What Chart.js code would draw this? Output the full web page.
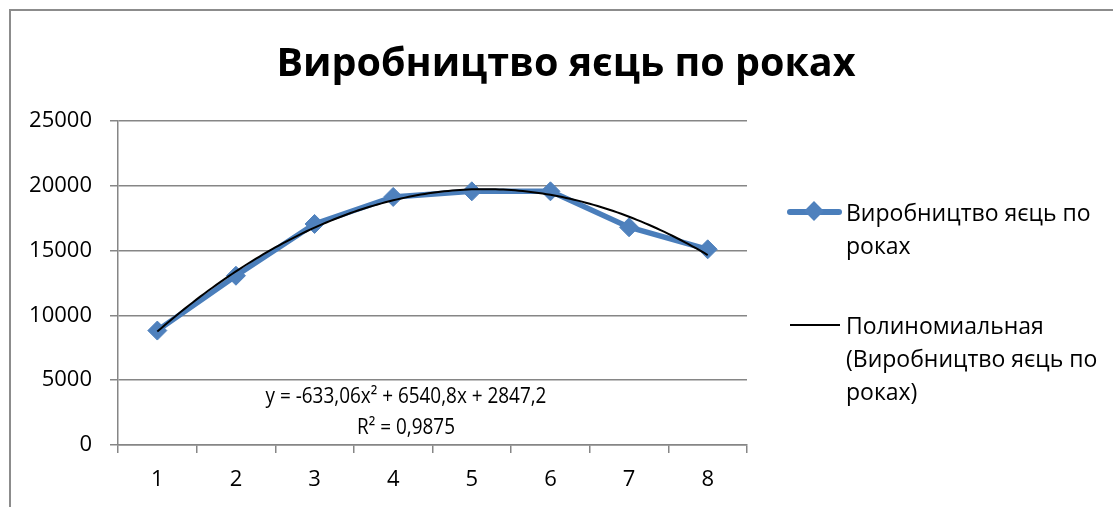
<!DOCTYPE html>
<html>
<head>
<meta charset="utf-8">
<script src="https://cdn.jsdelivr.net/npm/chart.js@4.4.0/dist/chart.umd.min.js"></script>
<style>
    body { margin: 0; background: #fff; overflow: hidden; font-family: "Open Sans", sans-serif; }
    #wrap { position: relative; width: 1113px; height: 507px; }
    #frame { position: absolute; left: 9px; top: 9px; width: 1130px; height: 530px; border: 2px solid #8c8c8c; box-sizing: border-box; }
    #title { position: absolute; left: 0; width: 1132px; top: 35px; text-align: center; font-size: 39.5px; font-weight: bold; line-height: 52px; color: #000; }
    .leg { position: absolute; font-size: 23px; line-height: 33px; color: #000; white-space: nowrap; }
    .mk { position: absolute; }
</style>
</head>
<body>
<div id="wrap">
    <div id="frame"></div>
    <canvas id="eggChart"></canvas>
    <div id="title">Виробництво яєць по роках</div>
    <div class="mk" style="left:787px; top:209px; width:55px; height:6px; background:#4a7ebb; border-radius:3px;"></div>
    <div class="mk" style="left:807px; top:204px; width:14px; height:14px; background:#4f81bd; transform:rotate(45deg);"></div>
    <div class="leg" style="left:846px; top:196px;">Виробництво яєць по<br>роках</div>
    <div class="mk" style="left:790px; top:324px; width:50px; height:2px; background:#000;"></div>
    <div class="leg" style="left:846px; top:309px;">Полиномиальная<br>(Виробництво яєць по<br>роках)</div>
</div>
<script>
// chart values
const years = [1, 2, 3, 4, 5, 6, 7, 8];
const eggOutput = [8830, 13060, 17055, 19140, 19575, 19575, 16800, 15100];
const yTicks = [0, 5000, 10000, 15000, 20000, 25000];
// polynomial trendline coefficients (a2, a1, a0) as shown on the chart
const trendCoef = [-633.06, 6540.8, 2847.2];
const equationLines = ['y = -633,06x² + 6540,8x + 2847,2', 'R² = 0,9875'];

const gridGray = '#868686';
const fontFamily = '"Open Sans", sans-serif';

const seriesPoints = years.map((x, i) => ({ x: x, y: eggOutput[i] }));

const trendPoints = [];
for (let x = years[0]; x <= years[years.length - 1] + 1e-9; x += 0.05) {
    trendPoints.push({ x: x, y: trendCoef[0] * x * x + trendCoef[1] * x + trendCoef[2] });
}

// draws the trendline equation inside the plot area (narrowed like the original font)
const equationLabel = {
    id: 'equationLabel',
    afterDatasetsDraw(chart) {
        const ctx = chart.ctx;
        const sx = 0.86;
        ctx.save();
        ctx.scale(sx, 1);
        ctx.font = '22px ' + fontFamily;
        ctx.fillStyle = '#000';
        ctx.textAlign = 'center';
        ctx.textBaseline = 'middle';
        ctx.fillText(equationLines[0], 406 / sx, 397);
        ctx.fillText(equationLines[1], 406 / sx, 428);
        ctx.restore();
    }
};

const canvas = document.getElementById('eggChart');
canvas.width = 1113;
canvas.height = 507;

new Chart(canvas, {
    type: 'line',
    data: {
        datasets: [
            {
                label: 'Полиномиальная (Виробництво яєць по роках)',
                data: trendPoints,
                borderColor: '#000',
                borderWidth: 2,
                pointRadius: 0,
                tension: 0,
                order: 0
            },
            {
                label: 'Виробництво яєць по роках',
                data: seriesPoints,
                borderColor: '#4a7ebb',
                borderWidth: 5.5,
                backgroundColor: '#4f81bd',
                pointStyle: 'rectRot',
                pointRadius: 9.5,
                pointBorderWidth: 1,
                pointBorderColor: '#4f81bd',
                pointBackgroundColor: '#4f81bd',
                tension: 0,
                order: 1
            }
        ]
    },
    options: {
        responsive: false,
        animation: false,
        devicePixelRatio: 1,
        layout: { padding: { left: 0, right: 366, top: 121, bottom: 0 } },
        plugins: {
            legend: { display: false },
            tooltip: { enabled: false }
        },
        scales: {
            x: {
                type: 'linear',
                min: 0.5,
                max: 8.5,
                afterBuildTicks: scale => {
                    const t = [];
                    for (let v = 0.5; v <= 8.5; v += 0.5) t.push({ value: v });
                    scale.ticks = t;
                },
                afterFit: scale => { scale.height = 62; },
                grid: {
                    drawOnChartArea: false,
                    drawTicks: true,
                    tickLength: 8,
                    lineWidth: 1.5,
                    color: ctx => (ctx.tick && Number.isInteger(ctx.tick.value)) ? 'rgba(0,0,0,0)' : gridGray
                },
                border: { color: gridGray, width: 1.5 },
                ticks: {
                    autoSkip: false,
                    maxRotation: 0,
                    padding: 14,
                    color: '#000',
                    font: { family: fontFamily, size: 22 },
                    callback: v => Number.isInteger(v) ? String(v) : ''
                }
            },
            y: {
                min: 0,
                max: 25000,
                afterBuildTicks: scale => { scale.ticks = yTicks.map(v => ({ value: v })); },
                afterFit: scale => { scale.width = 118; },
                grid: { color: gridGray, lineWidth: 1.5, tickLength: 8 },
                border: { color: gridGray, width: 1.5 },
                ticks: {
                    padding: 18,
                    color: '#000',
                    font: { family: fontFamily, size: 22 },
                    callback: v => String(v)
                }
            }
        }
    },
    plugins: [equationLabel]
});
</script>
</body>
</html>
